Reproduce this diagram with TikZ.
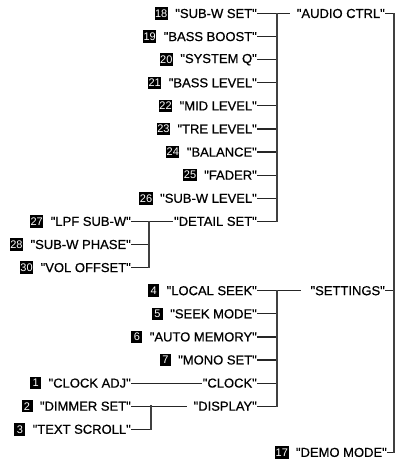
\documentclass[tikz,border=0pt]{standalone}
\usepackage{fontspec}
\setmainfont{Liberation Sans}
\newfontfamily\menufont{Liberation Sans}[FakeBold=0.7]
\usetikzlibrary{positioning}

\begin{document}
\begin{tikzpicture}[x=1pt, y=-1pt,
    item/.style={font=\menufont\fontsize{13}{13}\selectfont, inner xsep=1pt, inner ysep=0pt, anchor=east},
    numbox/.style={fill=black, text=white, font=\fontsize{11}{11}\selectfont, inner xsep=0.6pt, inner ysep=0.5pt, minimum width=11pt, minimum height=12.5pt},
    branch/.style={draw=black!85, line width=1.2pt, line cap=rect},
    bus/.style={draw=black!75, line width=1.6pt, line cap=rect}
]
\useasboundingbox (0,0) rectangle (397,465);

% audio ctrl menu
\foreach \n/\t/\r in {18/SUB-W SET/0, 19/BASS BOOST/1, 20/SYSTEM Q/2, 21/BASS LEVEL/3,
    22/MID LEVEL/4, 23/TRE LEVEL/5, 24/BALANCE/6, 25/FADER/7, 26/SUB-W LEVEL/8} {
    \node[item] (i\n) at (258, {13.5+23.1*\r}) {"\t"};
    \node[numbox, left=6pt of i\n] (n\n) {\n};
}
\node[item] (dset) at (258, {13.5+23.1*9}) {"DETAIL SET"};

% detail set
\foreach \n/\t/\r in {27/LPF SUB-W/9, 28/SUB-W PHASE/10, 30/VOL OFFSET/11} {
    \node[item] (i\n) at (132, {13.5+23.1*\r}) {"\t"};
    \node[numbox, left=6pt of i\n] (n\n) {\n};
}

% settings menu
\foreach \n/\t/\r in {4/LOCAL SEEK/12, 5/SEEK MODE/13, 6/AUTO MEMORY/14, 7/MONO SET/15} {
    \node[item] (i\n) at (258, {13.5+23.1*\r}) {"\t"};
    \node[numbox, left=6pt of i\n] (n\n) {\n};
}
\node[item] (clock) at (258, {13.5+23.1*16}) {"CLOCK"};
\node[item] (disp) at (258, {13.5+23.1*17}) {"DISPLAY"};

\foreach \n/\t/\r in {1/CLOCK ADJ/16, 2/DIMMER SET/17, 3/TEXT SCROLL/18} {
    \node[item] (i\n) at (132, {13.5+23.1*\r}) {"\t"};
    \node[numbox, left=6pt of i\n] (n\n) {\n};
}

% top level
\node[item] (aud) at (386, 13.5) {"AUDIO CTRL"};
\node[item] (set) at (386, {13.5+23.1*12}) {"SETTINGS"};
\node[item] (i17) at (388, {13.5+23.1*19}) {"DEMO MODE"};
\node[numbox, left=6pt of i17] (n17) {17};

\coordinate (ja) at (276.7, 13.5);
\coordinate (jb) at (276.7, {13.5+23.1*12});
\coordinate (jl) at (149, {13.5+23.1*9});
\coordinate (jd) at (151, {13.5+23.1*17});
\coordinate (jr) at (394, 13.5);

% connectors
\draw[branch] (i18.east) -- ([xshift=-6pt]aud.west);
\foreach \n in {19,...,26} {
    \draw[branch] (i\n.east) -- (ja |- i\n.east);
}
\draw[branch] (dset.east) -- (ja |- dset.east);
\draw[bus] (ja) -- (ja |- dset.east);

\draw[branch] (i27.east) -- ([xshift=-1pt]dset.west);
\foreach \n in {28,30} {
    \draw[branch] (i\n.east) -- (jl |- i\n.east);
}
\draw[bus] (jl) -- (jl |- i30.east);

\draw[branch] (i4.east) -- ([xshift=-9pt]set.west);
\foreach \n in {5,6,7} {
    \draw[branch] (i\n.east) -- (jb |- i\n.east);
}
\draw[branch] (clock.east) -- (jb |- clock.east);
\draw[branch] (disp.east) -- (jb |- disp.east);
\draw[bus] (jb) -- (jb |- disp.east);

\draw[branch] (i1.east) -- (clock.west);
\draw[branch] (i2.east) -- ([xshift=-6pt]disp.west);
\draw[branch] (i3.east) -- (jd |- i3.east);
\draw[bus] (jd) -- (jd |- i3.east);

\draw[branch] (aud.east) -- (jr);
\draw[branch] (set.east) -- (jr |- set.east);
\draw[branch] (i17.east) -- (jr |- i17.east);
\draw[bus] (jr) -- (jr |- i17.east);
\end{tikzpicture}
\end{document}
